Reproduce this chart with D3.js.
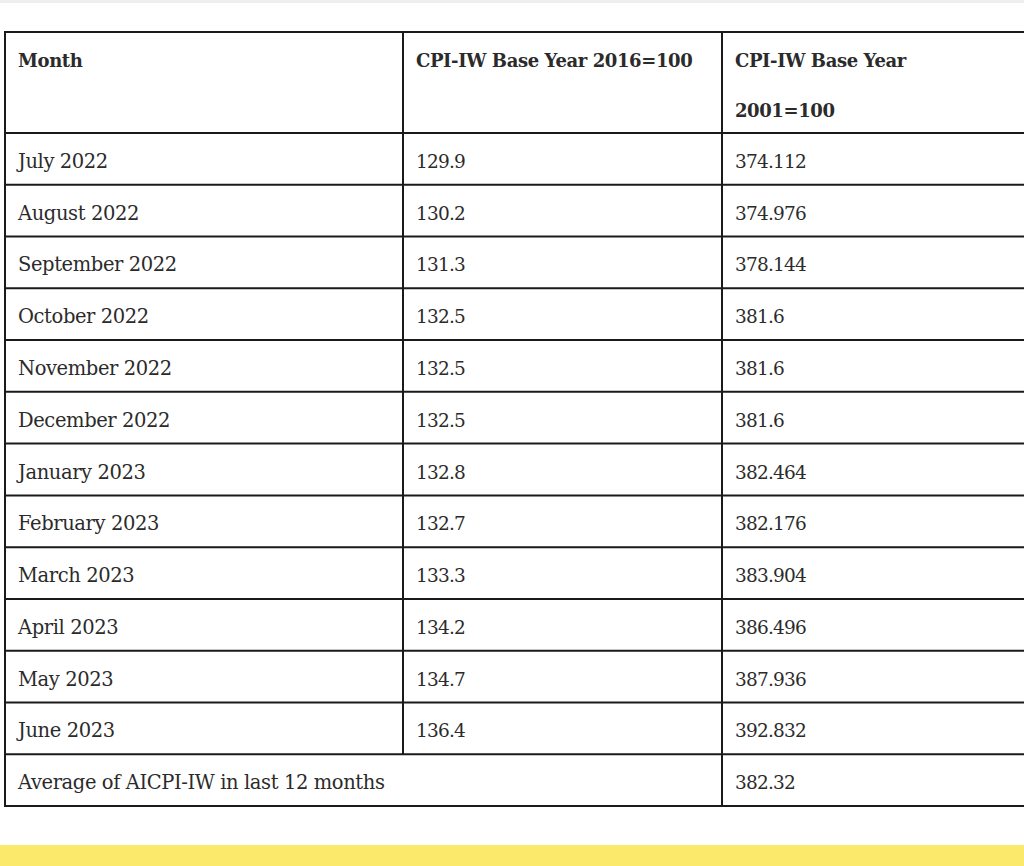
<!DOCTYPE html>
<html>
<head>
<meta charset="utf-8">
<script src="https://cdn.jsdelivr.net/npm/d3@7"></script>
<style>
  html, body { margin: 0; padding: 0; background: #ffffff; }
  svg { display: block; }
</style>
</head>
<body>
<svg id="chart" width="1024" height="866"></svg>
<script>
// ---- data ----
const headers = ["Month", "CPI-IW Base Year 2016=100", "CPI-IW Base Year|2001=100"];
const months = ["July 2022","August 2022","September 2022","October 2022","November 2022","December 2022",
  "January 2023","February 2023","March 2023","April 2023","May 2023","June 2023"];
const cpi2016 = ["129.9","130.2","131.3","132.5","132.5","132.5","132.8","132.7","133.3","134.2","134.7","136.4"];
const cpi2001 = ["374.112","374.976","378.144","381.6","381.6","381.6","382.464","382.176","383.904","386.496","387.936","392.832"];
const averageLabel = "Average of AICPI-IW in last 12 months";
const averageValue = "382.32";

// ---- layout ----
const svg = d3.select("#chart");
const W = 1024, H = 866;
const tableTop = 32, headerBottom = 133, tableBottom = 806;
const colEdges = [5, 403, 722, 1030];
const textColor = "#2b2b2b";
const lineColor = "#1a1a1a";
const font = "'DejaVu Serif', serif";

const wordStyle = { size: 19.5, ls: -0.4 };
const numStyle = { size: 18.5, ls: -0.8 };

// top light strip
svg.append("rect").attr("x", 0).attr("y", 0).attr("width", W).attr("height", 3).attr("fill", "#eeeeee");
// bottom yellow band
svg.append("rect").attr("x", 0).attr("y", 845).attr("width", W).attr("height", H - 845).attr("fill", "#fbe96c");

const rowKeys = d3.range(months.length + 1);
const y = d3.scaleBand().domain(rowKeys).range([headerBottom, tableBottom]).padding(0);
const x = d3.scaleOrdinal().domain([0, 1, 2]).range(colEdges.slice(0, 3));

const g = svg.append("g");

function cell(col, yy, txt, st) {
  g.append("text")
    .attr("x", x(col) + 13)
    .attr("y", yy)
    .attr("font-family", font)
    .attr("font-size", st.size)
    .attr("fill", textColor)
    .attr("letter-spacing", st.ls)
    .text(txt);
}

// header text
headers.forEach((h, i) => {
  h.split("|").forEach((ln, j) => {
    g.append("text")
      .attr("x", x(i) + 13)
      .attr("y", 67 + j * 50)
      .attr("font-family", font)
      .attr("font-weight", "bold")
      .attr("font-size", 18)
      .attr("fill", textColor)
      .attr("letter-spacing", -0.4)
      .text(ln);
  });
});

// body rows
months.forEach((m, i) => {
  const yy = y(i) + y.bandwidth() / 2 + 9;
  cell(0, yy, m, wordStyle);
  cell(1, yy, cpi2016[i], numStyle);
  cell(2, yy, cpi2001[i], numStyle);
});
// average row
const ai = months.length;
cell(0, y(ai) + y.bandwidth() / 2 + 9, averageLabel, wordStyle);
cell(2, y(ai) + y.bandwidth() / 2 + 9, averageValue, numStyle);

// grid lines
const lines = svg.append("g").attr("stroke", lineColor).attr("stroke-width", 2);
[tableTop, headerBottom, ...rowKeys.map(k => y(k) + y.bandwidth())].forEach(yy => {
  lines.append("line").attr("x1", colEdges[0] - 1).attr("x2", W).attr("y1", yy).attr("y2", yy);
});
lines.append("line").attr("x1", colEdges[0]).attr("x2", colEdges[0]).attr("y1", tableTop).attr("y2", tableBottom);
lines.append("line").attr("x1", colEdges[1]).attr("x2", colEdges[1]).attr("y1", tableTop).attr("y2", y(ai));
lines.append("line").attr("x1", colEdges[2]).attr("x2", colEdges[2]).attr("y1", tableTop).attr("y2", tableBottom);
</script>
</body>
</html>
